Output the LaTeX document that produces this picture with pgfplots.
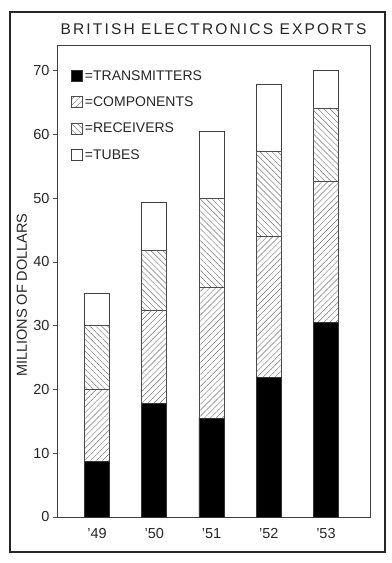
\documentclass[border=0pt]{standalone}
\usepackage{fontspec}
\setmainfont{Liberation Sans}
\newfontfamily\titlefont[LetterSpace=14]{Liberation Sans}
\usepackage{pgfplots}
\usepackage{pgfplotstable}
\pgfplotsset{compat=1.18}
\usetikzlibrary{patterns,patterns.meta}
\pgfplotstableread{
x T C R U
0 8.7 11.3 10.0 5.0
1 17.8 14.6 9.4 7.5
2 15.5 20.5 13.9 10.5
3 21.9 22.1 13.4 10.4
4 30.5 22.2 11.3 6.1
}\data
\begin{document}
\begin{tikzpicture}
\begin{axis}[
  name=ax,
  scale only axis, width=313pt, height=472pt,
  xmin=-0.7, xmax=4.77, ymin=0, ymax=74,
  ybar stacked, bar width=25pt,
  xtick={0,1,2,3,4}, xticklabels={'49,'50,'51,'52,'53},
  ytick={0,10,...,70},
  xtick style={draw=none},
  ytick pos=left, tick align=outside, major tick length=4pt,
  tick style={black!70, line width=0.5pt},
  axis line style={black!75, line width=0.6pt},
  /pgf/number format/assume math mode=true,
  ticklabel style={font=\fontsize{14.5}{16}\selectfont, text=black!85},
  xticklabel style={yshift=-4pt},
  ylabel={MILLIONS OF DOLLARS},
  ylabel style={at={(axis description cs:-0.112,0.47)}, anchor=center, font=\fontsize{14.5}{16}\selectfont, text=black!85},
  title={\titlefont BRITISH ELECTRONICS EXPORTS},
  title style={font=\fontsize{15.5}{17}\selectfont, text=black!85, yshift=1pt},
  legend style={at={(0.035,0.955)}, anchor=north west, draw=none, fill=none,
    row sep=11pt, font=\fontsize{14}{16}\selectfont, text=black!85,
    /tikz/every even column/.append style={column sep=0pt}},
  legend cell align=left,
  legend image code/.code={\draw[#1, line width=0.8pt] (0pt,-5.5pt) rectangle (11pt,5.5pt);},
  clip=false,
]
\addplot[draw=black!80, line width=0.6pt, fill=black] table[x=x,y=T]{\data};
\addplot[draw=black!70, line width=0.6pt, fill=white, pattern={Lines[angle=45,distance=4.2pt,line width=0.45pt]}, pattern color=black!55] table[x=x,y=C]{\data};
\addplot[draw=black!70, line width=0.6pt, fill=white, pattern={Lines[angle=-45,distance=4.2pt,line width=0.45pt]}, pattern color=black!55] table[x=x,y=R]{\data};
\addplot[draw=black!75, line width=0.6pt, fill=white] table[x=x,y=U]{\data};
\legend{=TRANSMITTERS,=COMPONENTS,=RECEIVERS,=TUBES}
\coordinate (sw) at (rel axis cs:0,0);
\coordinate (ne) at (rel axis cs:1,1);
\end{axis}
\draw[black!85, line width=1.2pt] ([shift={(-47pt,-35pt)}]sw) rectangle ([shift={(15pt,33pt)}]ne);
\path ([shift={(-57pt,-46pt)}]sw) rectangle ([shift={(21pt,45pt)}]ne);
\end{tikzpicture}
\end{document}
